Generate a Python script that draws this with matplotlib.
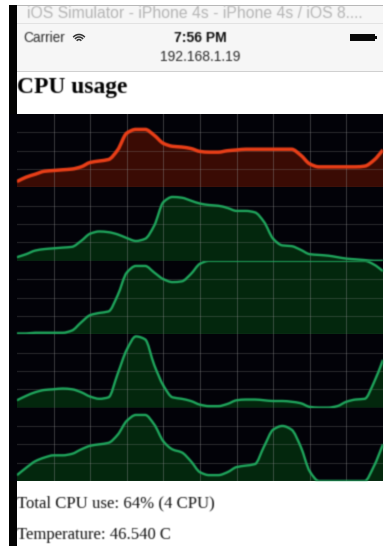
import matplotlib
matplotlib.use("Agg")
import matplotlib.pyplot as plt
import numpy as np
from matplotlib.patches import PathPatch, Rectangle
from matplotlib.path import Path

W, H = 384, 546

# one sample every 2.5 units of the 0-100 time axis, values in percent
cpu_total = [8, 14, 18, 22, 23, 24, 25, 28, 34, 36, 38, 51, 74, 79, 79, 71, 60, 56, 55, 53, 49,
             48, 48, 50, 51, 52, 52, 52, 52, 52, 52, 44, 32, 28, 28, 28, 28, 28, 29, 37, 51]
cpu_0 = [5, 9, 14, 16, 17, 18, 19, 27, 37, 40, 39, 36, 31, 27, 30, 48, 80, 87, 86, 82, 78,
         76, 75, 72, 68, 68, 66, 53, 30, 21, 20, 15, 9, 8, 7, 5, 3, 2, 1, 0, 0]
cpu_1 = [1, 1, 2, 2, 2, 2, 5, 16, 26, 29, 31, 53, 84, 93, 93, 84, 75, 71, 72, 82, 96,
         100, 100, 100, 100, 100, 100, 100, 100, 100, 100, 100, 100, 100, 100, 100, 100, 100, 100, 95, 86]
cpu_2 = [10, 16, 21, 24, 25, 26, 25, 21, 15, 12, 14, 46, 79, 97, 93, 58, 30, 14, 12, 9, 4,
         2, 2, 5, 10, 11, 11, 10, 9, 9, 8, 6, 1, 0, 0, 2, 8, 11, 12, 34, 65]
cpu_3 = [8, 18, 27, 32, 35, 35, 37, 43, 48, 50, 52, 63, 82, 90, 90, 77, 54, 43, 39, 27, 12,
         8, 8, 12, 19, 21, 23, 47, 70, 75, 70, 47, 13, 0, 0, 0, 0, 0, 0, 20, 50]
time = np.arange(len(cpu_total)) * 2.5

series = [cpu_total, cpu_0, cpu_1, cpu_2, cpu_3]
RED = ("#ea3f18", "#3a0b04")
GREEN = ("#20a85e", "#03270d")
styles = [RED, GREEN, GREEN, GREEN, GREEN]

fig = plt.figure(figsize=(W / 100, H / 100), dpi=100, facecolor="white")


def px_axes(x0, y0, x1, y1):
    # pixel box measured from the top left of the picture
    return fig.add_axes([x0 / W, 1 - y1 / H, (x1 - x0) / W, (y1 - y0) / H])


def soften(image, dpi):
    # the source is a blurry screen grab, so smear the alpha a little
    pad = 2
    kernel = np.array([1, 3, 1]) / 5
    row, col = np.unravel_index(image[..., 3].argmax(), image.shape[:2])
    rgb = image[row, col, :3]
    alpha = np.pad(image[..., 3], pad)
    alpha = np.apply_along_axis(lambda r: np.convolve(r, kernel, mode="same"), 0, alpha)
    alpha = np.apply_along_axis(lambda r: np.convolve(r, kernel, mode="same"), 1, alpha)
    out = np.zeros(alpha.shape + (4,))
    out[..., :3] = rgb
    out[..., 3] = alpha
    return out, -pad, -pad


def smooth_path(x, y):
    # cubic segments through the samples, tangents flattened at local extremes
    x, y = np.asarray(x, float), np.asarray(y, float)
    h = x[1] - x[0]
    d = np.diff(y) / h
    m = np.zeros_like(y)
    m[0], m[-1] = d[0], d[-1]
    for k in range(1, len(y) - 1):
        m[k] = 0 if d[k - 1] * d[k] <= 0 else 2 * d[k - 1] * d[k] / (d[k - 1] + d[k])
    verts = [(x[0], y[0])]
    codes = [Path.MOVETO]
    for k in range(len(y) - 1):
        verts += [(x[k] + h / 3, y[k] + m[k] * h / 3), (x[k + 1] - h / 3, y[k + 1] - m[k + 1] * h / 3), (x[k + 1], y[k + 1])]
        codes += [Path.CURVE4] * 3
    return verts, codes


# Page behind the graphs
bg = fig.add_axes([0, 0, 1, 1])
bg.set_xlim(0, W)
bg.set_ylim(H, 0)
bg.axis("off")
bg.add_patch(Rectangle((9, 5), 374, 66, color="#f6f6f6", lw=0))
bg.add_patch(Rectangle((9, 5), 374, 1, color="#b8b8b8", lw=0))
bg.add_patch(Rectangle((9, 23), 374, 1, color="#e2e2e2", lw=0))
bg.add_patch(Rectangle((9, 71), 374, 1, color="#d0d0d0", lw=0))
bg.add_patch(Rectangle((9, 5), 8, H - 5, color="#030303", lw=0))
bg.add_patch(Rectangle((9, 114), 374, 367, color="#020208", lw=0))

# Battery icon
bg.add_patch(Rectangle((350, 33.5), 25, 7.5, color="#0a0a0a", lw=0))
bg.add_patch(Rectangle((375, 35.5), 2, 3.5, color="#0a0a0a", lw=0))

sans = "Liberation Sans"
serif = "Liberation Serif"
labels = [
    bg.text(195, 14, "iOS Simulator - iPhone 4s - iPhone 4s / iOS 8....", family=sans, fontsize=11.3,
            color="#b4b4b4", ha="center", va="center"),
    bg.text(23, 38, "Carrier", family=sans, fontsize=9.8, color="#2a2a2a", va="center"),
    bg.text(200, 38, "7:56 PM", family=sans, fontsize=10, color="#111111", weight="bold", ha="center", va="center"),
    bg.text(200, 57, "192.168.1.19", family=sans, fontsize=10, color="#2a2a2a", ha="center", va="center"),
    bg.text(17, 87, "CPU usage", family=serif, fontsize=16.9, weight="bold", color="#000000", va="center"),
    bg.text(17, 503, "Total CPU use: 64% (4 CPU)", family=serif, fontsize=12.1, color="#111111", va="center"),
    bg.text(17, 535, "Temperature: 46.540 C", family=serif, fontsize=12, color="#111111", va="center"),
]
for t in labels:
    t.set_agg_filter(soften)

# Wifi arcs next to the carrier name
for r in (2.5, 5, 7.5):
    ang = np.radians(np.linspace(-135, -45, 12))
    bg.plot(79 + r * np.cos(ang), 42 + r * np.sin(ang), color="#333333", lw=1.1)

# One graph per cpu, stacked without gaps
top = 114
panel_h = 73.4
for i, (vals, (line_c, fill_c)) in enumerate(zip(series, styles)):
    ax = px_axes(17, top + i * panel_h, 383, top + (i + 1) * panel_h)
    ax.patch.set_alpha(0)
    ax.set_xlim(0, 100)
    ax.set_ylim(0, 100)
    verts, codes = smooth_path(time, vals)
    outline = verts + [(time[-1], 0), (time[0], 0), verts[0]]
    fill_codes = codes + [Path.LINETO, Path.LINETO, Path.CLOSEPOLY]
    ax.add_patch(PathPatch(Path(outline, fill_codes), facecolor=fill_c, lw=0, zorder=1))
    ax.set_xticks(np.arange(10, 100, 10))
    ax.set_yticks([0, 25, 50, 75])
    ax.grid(True, axis="x", color="#8f8f8f", alpha=0.28, lw=1, zorder=2)
    ax.grid(True, axis="y", color="#8f8f8f", alpha=0.2, lw=1, zorder=2)
    ax.set_axisbelow(False)
    ax.tick_params(length=0, labelbottom=False, labelleft=False)
    for s in ax.spines.values():
        s.set_visible(False)
    lw = 2.5 if i == 0 else 1.7
    curve = PathPatch(Path(verts, codes), facecolor="none", edgecolor=line_c, lw=lw, zorder=3)
    curve.set_agg_filter(soften)
    ax.add_patch(curve)

fig.savefig("out.png", dpi=100)
